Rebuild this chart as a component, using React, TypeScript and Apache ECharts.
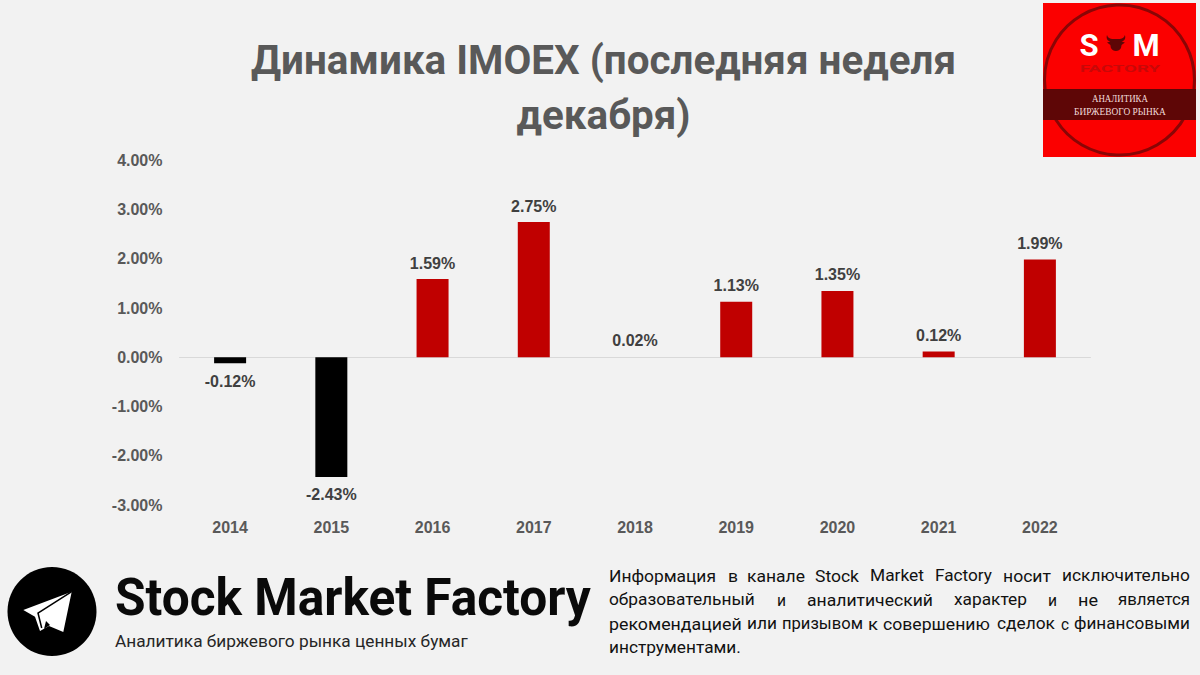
import React, { useEffect, useRef } from "react";
import * as echarts from "echarts";

const years = ["2014", "2015", "2016", "2017", "2018", "2019", "2020", "2021", "2022"];
const changes = [-0.12, -2.43, 1.59, 2.75, 0.02, 1.13, 1.35, 0.12, 1.99];
const chartTitle = "Динамика IMOEX (последняя неделя\nдекабря)";
const brand = "Stock Market Factory";
const brandSub = "Аналитика биржевого рынка ценных бумаг";
const line1 = [["Информация", 609, 716], ["в", 728, 738], ["канале", 747, 805], ["Stock", 815, 859], ["Market", 870, 924], ["Factory", 935, 992], ["носит", 1003, 1051], ["исключительно", 1062, 1190]];
const line2 = [["образовательный", 609, 755], ["и", 777, 786], ["аналитический", 807, 933], ["характер", 954, 1027], ["и", 1048, 1057], ["не", 1078, 1098], ["является", 1118, 1190]];
const line3 = [["рекомендацией", 609, 742], ["или", 747, 777], ["призывом", 782, 863], ["к", 868, 878], ["совершению", 883, 990], ["сделок", 997, 1055], ["с", 1061, 1069], ["финансовыми", 1074, 1190]];
const line4 = [["инструментами.", 609, 741]];

const RED = "#C00000";
const BG = "#F2F2F2";
const BODY = "Roboto, 'Noto Sans', sans-serif";
const ARIAL = "'Liberation Sans', Arial, sans-serif";

const BULL = "M0 0 C1 5 4 7 9 8 L23 8 C28 7 31 5 32 0 C34 7 31 12 26 13 L32 15 L26 20 L25 26 C23 30 20 32 16 32 C12 32 9 30 7 26 L6 20 L0 15 L6 13 C1 12 -2 7 0 0 Z";
echarts.graphic.registerShape("bullHead", echarts.graphic.extendPath(BULL, {}));

const measure = (t: string, font: string) => {
  const c = document.createElement("canvas").getContext("2d")!;
  c.font = font;
  return c.measureText(t).width;
};
const fitted = (t: string, x0: number, x1: number, y: number, font: string, fill: string) => ({
  type: "text",
  x: x0,
  y,
  scaleX: (x1 - x0) / measure(t, font),
  style: { text: t, x: 0, y: 0, font, fill, textAlign: "left", textVerticalAlign: "middle" },
});

export default function App() {
  const ref = useRef<HTMLDivElement>(null);
  useEffect(() => {
    document.body.style.margin = "0";
    document.body.style.background = BG;
    const chart = echarts.init(ref.current!, undefined, { renderer: "svg" });
    const bodyFont = `400 16px ${BODY}`;
    const INK = "#111111";
    const words = [
      ...line1.map((w) => fitted(w[0] as string, w[1] as number, w[2] as number, 576, bodyFont, INK)),
      ...line2.map((w) => fitted(w[0] as string, w[1] as number, w[2] as number, 600, bodyFont, INK)),
      ...line3.map((w) => fitted(w[0] as string, w[1] as number, w[2] as number, 624, bodyFont, INK)),
      ...line4.map((w) => fitted(w[0] as string, w[1] as number, w[2] as number, 648, bodyFont, INK)),
    ];
    chart.setOption({
      animation: false,
      backgroundColor: BG,
      title: {
        text: chartTitle,
        left: 598.5,
        top: 28,
        textAlign: "center",
        textStyle: { fontFamily: BODY, fontWeight: 700, fontSize: 40.4, lineHeight: 55, color: "#595959" },
      },
      grid: { left: 179.5, right: 109.5, top: 160.5, bottom: 170 },
      xAxis: [
        {
          type: "category",
          data: years,
          axisTick: { show: false },
          axisLabel: { show: false },
          axisLine: { onZero: true, lineStyle: { color: "#D9D9D9", width: 1 } },
        },
        {
          type: "category",
          data: years,
          position: "bottom",
          axisTick: { show: false },
          axisLine: { show: false, onZero: false },
          axisLabel: { color: "#595959", fontFamily: ARIAL, fontWeight: 700, fontSize: 16, margin: 14 },
        },
      ],
      yAxis: {
        type: "value",
        min: -3,
        max: 4,
        interval: 1,
        splitLine: { show: false },
        axisLine: { show: false },
        axisTick: { show: false },
        axisLabel: {
          color: "#595959",
          fontFamily: ARIAL,
          fontWeight: 700,
          fontSize: 16,
          margin: 17,
          formatter: (v: number) => `${v.toFixed(2)}%`,
        },
      },
      series: [
        {
          type: "bar",
          barWidth: 32,
          data: changes.map((v) => ({
            value: v,
            itemStyle: { color: v < 0 ? "#000000" : Math.abs(v) < 0.05 ? "transparent" : RED },
            label: { distance: v < 0 ? 10 : 8 },
          })),
          label: {
            show: true,
            position: "outside",
            distance: 8,
            color: "#404040",
            fontFamily: ARIAL,
            fontWeight: 700,
            fontSize: 16,
            formatter: (p: any) => `${p.value.toFixed(2)}%`,
          },
        },
      ],
      graphic: [
        { type: "rect", shape: { x: 1043, y: 3, width: 153, height: 154 }, style: { fill: "#FB0000" } },
        { type: "circle", shape: { cx: 1119.5, cy: 80, r: 75 }, style: { fill: "none", stroke: "#8A0505", lineWidth: 3 } },
        { type: "rect", shape: { x: 1043, y: 89, width: 153, height: 31 }, style: { fill: "#5E0606" } },
        { type: "text", style: { text: "S", x: 1089, y: 45, font: `700 31px ${BODY}`, fill: "#FFFFFF", textAlign: "center", textVerticalAlign: "middle" } },
        { type: "text", style: { text: "M", x: 1146, y: 45, font: `700 31px ${BODY}`, fill: "#FFFFFF", textAlign: "center", textVerticalAlign: "middle" } },
        { type: "bullHead", x: 1107, y: 35, scaleX: 0.56, scaleY: 0.5, style: { fill: "#5E0606" } },
        fitted("FACTORY", 1080, 1160, 69, `700 9px ${BODY}`, "#C80808"),
        fitted("АНАЛИТИКА", 1092, 1148, 99, "400 10px 'Liberation Serif', serif", "#F0DADA"),
        fitted("БИРЖЕВОГО РЫНКА", 1074, 1166, 111, "400 10px 'Liberation Serif', serif", "#F0DADA"),

        { type: "ellipse", shape: { cx: 52, cy: 611.5, rx: 44.5, ry: 44.5 }, style: { fill: "#000000" } },
        { type: "polygon", shape: { points: [[71.7, 591.7], [23.3, 610], [35, 616.7], [40, 631], [49, 626], [63.3, 632]] }, style: { fill: "#FFFFFF" } },
        { type: "polyline", shape: { points: [[71.7, 591.7], [38, 613], [41.7, 628]] }, style: { fill: "none", stroke: "#000000", lineWidth: 1.5 } },
        { type: "polygon", shape: { points: [[46, 621], [50, 625], [44, 629]] }, style: { fill: "#000000" } },

        fitted(brand, 115, 591, 597, `700 52px ${BODY}`, "#0A0A0A"),
        fitted(brandSub, 115, 468, 642, `400 16px ${BODY}`, "#262626"),
        ...words,
      ],
    });
    return () => chart.dispose();
  }, []);
  return <div ref={ref} style={{ position: "fixed", left: 0, top: 0, width: 1200, height: 675 }} />;
}
